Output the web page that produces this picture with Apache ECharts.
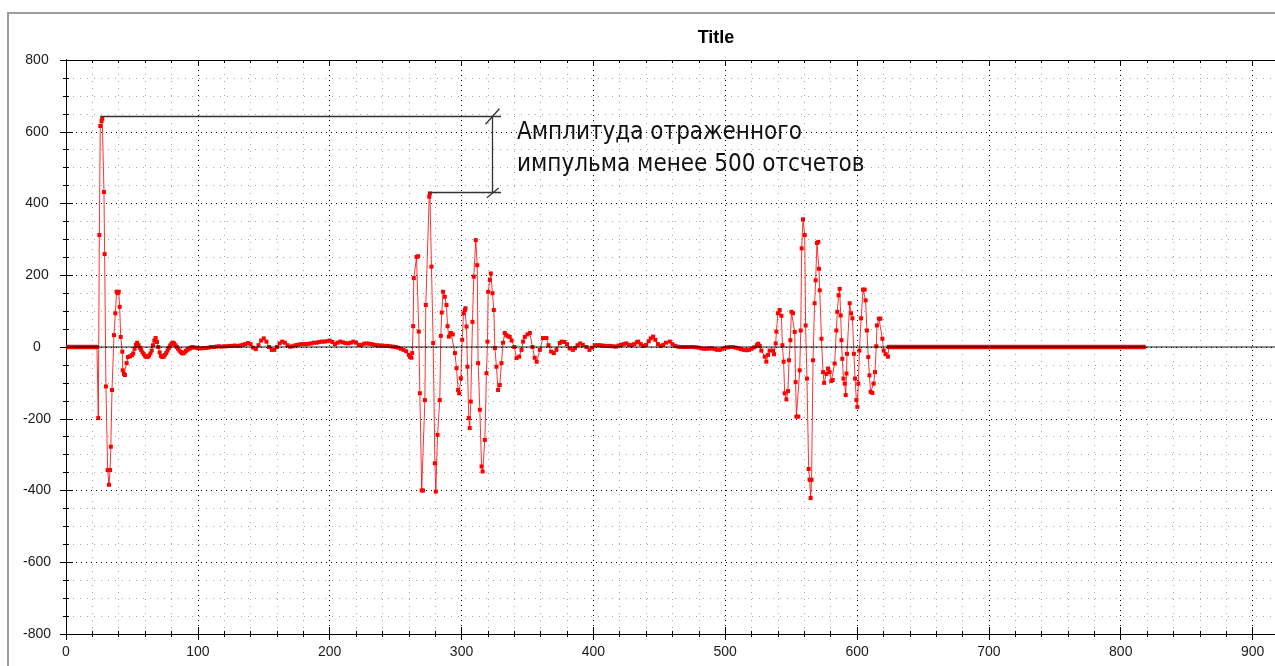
<!DOCTYPE html>
<html>
<head>
<meta charset="utf-8">
<script src="https://cdn.jsdelivr.net/npm/echarts@6/dist/echarts.min.js"></script>
<style>
html,body{margin:0;padding:0;background:#fff;}
#chart{width:1275px;height:666px;}
</style>
</head>
<body>
<div id="chart"></div>
<script>
// ---- data ----
const titleText = 'Title';
const xTicks = [0, 100, 200, 300, 400, 500, 600, 700, 800, 900];
const yTicks = [-800, -600, -400, -200, 0, 200, 400, 600, 800];

// flat (zero) stretches before and after the signal
const leadX = [0, 23.5];
const leadY = [0, 0];
const tailX = [624, 819];
const tailY = [0, 0];

// first pulse
const pulse1X = [23.5, 24.5, 25.3, 26, 27, 27.5, 28.8, 29.3, 30.3, 31.6, 32.6, 33.4, 34, 34.9, 36.4, 37.4, 38.4, 39.2, 40, 40.7, 41.5, 42.7, 43, 44, 44.7, 46, 47, 48.5, 50, 51, 52, 53, 54, 55, 56, 57, 58, 59, 60, 61, 62, 63, 64, 65, 66, 67, 68, 69, 70, 71, 72, 73, 74, 75, 76, 77, 78, 79, 80, 81, 82, 83, 84, 85, 86, 87, 88, 89, 90, 91, 92, 93, 94, 95, 96];
const pulse1Y = [0, -198, 312, 616, 630, 637, 432, 259, -110, -343, -384, -343, -278, -120, 33, 94, 154, 150, 154, 112, 28, -13, -65, -75, -78, -45, -28, -26, -23, -18, -5, 6, 12, 5, -2, -8, -15, -20, -25, -28, -28, -24, -18, -10, 5, 18, 25, 14, 0, -15, -25, -28, -27, -22, -17, -10, -3, 4, 9, 12, 10, 5, 0, -5, -10, -14, -17, -18, -15, -11, -8, -6, -4, -2, 0];

// ripple between pulse 1 and pulse 2
const ripple1X = [98, 100, 102, 104, 106, 108, 110, 112, 114, 116, 118, 120, 122, 124, 126, 128, 130, 132, 134, 136, 138, 140, 142, 144, 146, 148, 150, 152, 154, 156, 158, 160, 162, 164, 166, 168, 170, 172, 174, 176, 178, 180, 182, 184, 186, 188, 190, 192, 194, 196, 198, 200, 202, 204, 206, 208, 210, 212, 214, 216, 218, 220, 222, 224, 226, 228, 230, 232, 234, 236, 238, 240, 242, 244, 246, 248, 250, 252, 254, 256];
const ripple1Y = [-2, -3, -4, -3, -3, -2, 0, 0, 1, 2, 1, 2, 2, 3, 3, 4, 3, 4, 6, 8, 11, 8, -2, -6, 5, 18, 24, 15, 0, -8, -8, 0, 10, 15, 12, 5, 1, 2, 5, 6, 8, 8, 8, 9, 10, 12, 12, 14, 15, 15, 16, 18, 14, 8, 12, 15, 13, 11, 10, 12, 15, 12, 6, 6, 9, 10, 9, 8, 6, 5, 4, 4, 3, 3, 2, 1, 0, -2, -5, -8];

// second pulse
const pulse2X = [258, 260, 261, 262, 262.6, 263.3, 263.8, 265.9, 267.1, 267.6, 268.4, 269.8, 270.8, 272.2, 272.9, 275.5, 276, 277.2, 278.5, 279.8, 280.5, 281.8, 283.5, 284.3, 285, 286, 287.3, 288.6, 289.4, 290.4, 292, 293.4, 295, 296.2, 297.4, 298.2, 299.5, 300.5, 301.5, 302.5, 303, 303.8, 304.5, 305.5, 306.2, 307, 308.3, 309.3, 310.8, 311.9, 312.6, 313.9, 315.2, 316, 317.7, 318.9, 319.7, 320.2, 321.5, 322.2, 323.5, 324.5, 325.3, 326.5, 327.7, 329, 330.3, 331.5, 332.8, 334, 335.3, 336.6];
const pulse2Y = [-12, -22, -28, -30, -17, 58, 192, 251, 253, 43, -129, -400, -400, -148, 117, 419, 428, 224, 11, -324, -403, -245, -148, 31, 96, 154, 140, 117, 58, 29, 39, 35, -17, -59, -120, -129, -87, 20, 94, 103, 108, 57, -55, -198, -226, -152, 70, 196, 298, 228, -45, -175, -333, -347, -259, -73, 15, 154, 187, 205, 150, 103, -3, -55, -120, -106, -45, 12, 39, 33, 30, 28];

// ripple between pulse 2 and pulse 3
const ripple2X = [338, 340, 341.7, 343.7, 345.5, 346.7, 348, 350, 351.8, 353.8, 355.5, 357, 359.4, 361.8, 364.4, 366, 368, 370, 372, 374.5, 376, 378, 380, 382, 384.5, 386, 388, 390, 392, 394.8, 397, 399, 401, 403, 405, 407, 409, 411, 413, 415, 417, 419, 421, 423, 425, 427, 429, 431, 433, 434, 436, 438, 440, 442, 443.5, 445.3, 447, 449, 451, 453, 455, 458, 460, 462, 464, 466, 468, 470, 472, 474, 476, 478, 480, 482, 484, 486, 488, 490, 492, 494, 496, 498, 500, 502, 504, 506, 508, 510, 512, 514, 516, 518, 520, 522, 524, 525];
const ripple2Y = [18, 0, -31, -27, -8, 15, 28, 35, 39, 0, -30, -41, -8, 25, 25, 5, -13, -17, -8, 11, 15, 14, 8, -4, -8, -3, 5, 10, 6, 0, -8, -2, 5, 5, 5, 4, 3, 3, 3, 2, 1, 4, 6, 8, 10, 6, 5, 8, 13, 15, 8, 3, 6, 16, 24, 29, 20, 8, 3, 6, 12, 15, 8, 3, 1, 0, 0, 0, 0, 0, 0, -1, -2, -4, -5, -5, -4, -4, -6, -8, -8, -5, -2, -1, 0, 0, -2, -4, -6, -8, -9, -8, -5, -1, 5, 9];

// third pulse
const pulse3X = [526.2, 527.4, 530, 531.2, 532.5, 533.7, 536.3, 537, 538.3, 538.8, 540, 541.3, 542.6, 543.4, 544.3, 545.1, 546.4, 547.6, 548.4, 549.4, 550.2, 551.4, 552.7, 553.4, 554, 555.5, 556.5, 557.3, 558, 559, 560.3, 561, 562, 563.3, 564, 564.8, 565.5, 566.6, 567.8, 568.6, 569.6, 570.6, 571.1, 571.7, 573, 574.2, 575, 576.7, 578, 579.2, 580.5, 581.5, 583, 584.3, 585, 586, 586.8, 587.6, 588.2, 588.8, 589.7, 590.6, 591.4, 592, 592.4, 594.4, 595.5, 596.5, 597.6, 598.5, 599.5, 600.2, 601, 601.8, 603.1, 604.5, 605.8, 606.5, 607.5, 608.5, 609.4, 610.3, 611.6, 612.6, 613.6, 614.6, 615.1, 616.6, 617.7, 619.2, 620.2, 621.7, 623.5, 624];
const pulse3Y = [3, -10, -27, -41, -22, -10, -10, -20, 10, 43, 94, 103, 87, 5, -41, -129, -146, -123, -37, 19, 98, 94, 42, -98, -194, -194, -65, 46, 275, 356, 312, 60, -88, -340, -370, -421, -370, -37, 122, 186, 290, 293, 218, 158, 23, -70, -100, -75, -60, -70, -95, -92, -46, 46, 98, 144, 162, 88, 19, -33, -88, -102, -134, -74, -19, 122, 94, 80, -19, -88, -148, -167, -102, -10, 80, 160, 160, 130, 46, -28, -79, -125, -128, -102, -70, 2, 60, 79, 79, 23, -10, -20, -27, 0];

// annotation bracket (data units)
const bracketTopY = 643;
const bracketLowY = 431;
const bracketTopStartX = 26;
const bracketLowStartX = 275.5;
const bracketEndX = 330;
const bracketVertX = 323.2;
const noteLines = ['Амплитуда отраженного', 'импульма менее 500 отсчетов'];

// ---- build ----
const zip = (xs, ys) => xs.map((x, i) => [x, ys[i]]);
const signal = [].concat(
  zip(pulse1X, pulse1Y), zip(ripple1X, ripple1Y), zip(pulse2X, pulse2Y),
  zip(ripple2X, ripple2Y), zip(pulse3X, pulse3Y)
);

const XMIN = 0, XMAX = 917, YMIN = -800, YMAX = 800;
const labelFont = { fontFamily: 'Liberation Sans', fontSize: 14, color: '#1a1a1a' };

function xAx(extra) {
  return Object.assign({
    type: 'value', min: XMIN, max: XMAX, interval: 100,
    axisLine: { show: true, onZero: false, lineStyle: { color: '#000', width: 1 } },
    axisTick: { show: true, length: 6, lineStyle: { color: '#000' } },
    minorTick: { show: true, splitNumber: 5, length: 3, lineStyle: { color: '#000' } },
    axisLabel: { show: false },
    splitLine: { show: false }, minorSplitLine: { show: false }
  }, extra);
}
function yAx(extra) {
  return Object.assign({
    type: 'value', min: YMIN, max: YMAX, interval: 200,
    axisLine: { show: true, onZero: false, lineStyle: { color: '#000', width: 1 } },
    axisTick: { show: true, length: 6, lineStyle: { color: '#000' } },
    minorTick: { show: true, splitNumber: 4, length: 3, lineStyle: { color: '#000' } },
    axisLabel: { show: false },
    splitLine: { show: false }, minorSplitLine: { show: false }
  }, extra);
}

const chart = echarts.init(document.getElementById('chart'), null, { renderer: 'canvas' });
chart.setOption({
  animation: false,
  backgroundColor: '#fff',
  title: {
    text: titleText, left: 711, top: 24, textAlign: 'center',
    textStyle: { fontFamily: 'Liberation Sans', fontWeight: 'bold', fontSize: 18, color: '#000' }
  },
  grid: { left: 66, top: 60, height: 574, width: 1209.5, containLabel: false },
  xAxis: [
    xAx({
      position: 'bottom',
      axisLabel: Object.assign({ show: true, margin: 11, showMaxLabel: false,
        formatter: v => (xTicks.indexOf(v) >= 0 ? String(v) : '') }, labelFont),
      splitLine: { show: true, lineStyle: { color: '#000', width: 1, type: [1, 4] } },
      minorSplitLine: { show: true, lineStyle: { color: '#a8a8a8', width: 1, type: [1, 6] } }
    }),
    xAx({ position: 'bottom', axisTick: { show: true, inside: true, length: 7, lineStyle: { color: '#000' } },
          minorTick: { show: true, inside: true, splitNumber: 5, length: 3, lineStyle: { color: '#000' } } }),
    xAx({ position: 'top', axisTick: { show: true, inside: true, length: 6, lineStyle: { color: '#000' } },
          minorTick: { show: true, inside: true, splitNumber: 5, length: 3, lineStyle: { color: '#000' } } })
  ],
  yAxis: [
    yAx({
      position: 'left',
      axisLabel: Object.assign({ show: true, margin: 29, align: 'center',
        formatter: v => (yTicks.indexOf(v) >= 0 ? String(v) : '') }, labelFont),
      splitLine: { show: true, lineStyle: { color: '#000', width: 1, type: [1, 4] } },
      minorSplitLine: { show: true, lineStyle: { color: '#a8a8a8', width: 1, type: [1, 6] } }
    }),
    yAx({ position: 'left', axisTick: { show: true, inside: true, length: 7, lineStyle: { color: '#000' } },
          minorTick: { show: true, inside: true, splitNumber: 4, length: 3, lineStyle: { color: '#000' } } })
  ],
  series: [
    {
      name: 'lead', type: 'line', z: 2, showSymbol: false, silent: true,
      data: zip(leadX, leadY), lineStyle: { color: '#ff0000', width: 4.5 }
    },
    {
      name: 'tail', type: 'line', z: 2, showSymbol: false, silent: true,
      data: zip(tailX, tailY), lineStyle: { color: '#ff0000', width: 4.5 }
    },
    {
      name: 'signal', type: 'line', z: 3, silent: true,
      data: signal,
      symbol: 'rect', symbolSize: 4, showSymbol: true,
      itemStyle: { color: '#ff0000' },
      lineStyle: { color: 'rgba(255,0,0,0.8)', width: 1 }
    },
    {
      name: 'annotations', type: 'line', z: 4, data: [], silent: true,
      markLine: {
        silent: true, symbol: 'none', animation: false,
        label: { show: false },
        lineStyle: { color: '#333', width: 1.3, type: 'solid' },
        data: [
          [{ coord: [bracketTopStartX, bracketTopY] }, { coord: [bracketEndX, bracketTopY] }],
          [{ coord: [bracketLowStartX, bracketLowY] }, { coord: [bracketEndX, bracketLowY] }],
          [{ coord: [bracketVertX, bracketTopY] }, { coord: [bracketVertX, bracketLowY] }],
          [{ coord: [bracketVertX - 5, bracketTopY - 22] }, { coord: [bracketVertX + 5.5, bracketTopY + 21] }],
          [{ coord: [bracketVertX - 4, bracketLowY - 15] }, { coord: [bracketVertX + 5, bracketLowY + 12] }]
        ]
      }
    },
    {
      name: 'zero', type: 'line', z: 5, data: [], silent: true,
      markLine: {
        silent: true, symbol: 'none', animation: false, label: { show: false },
        lineStyle: { color: 'rgba(0,0,0,0.6)', width: 1.6, type: 'solid' },
        data: [{ yAxis: 0 }]
      }
    }
  ],
  graphic: [
    {
      type: 'rect', silent: true, z: -10,
      shape: { x: 8, y: 13, width: 1400, height: 800 },
      style: { fill: 'none', stroke: '#9c9c9c', lineWidth: 2 }
    },
    {
      type: 'text', silent: true, left: 517, top: 117, z: 10,
      style: {
        text: noteLines.join('\n'),
        font: '24px "DejaVu Sans Condensed"',
        lineHeight: 32, fill: '#111'
      }
    }
  ]
});
</script>
</body>
</html>
